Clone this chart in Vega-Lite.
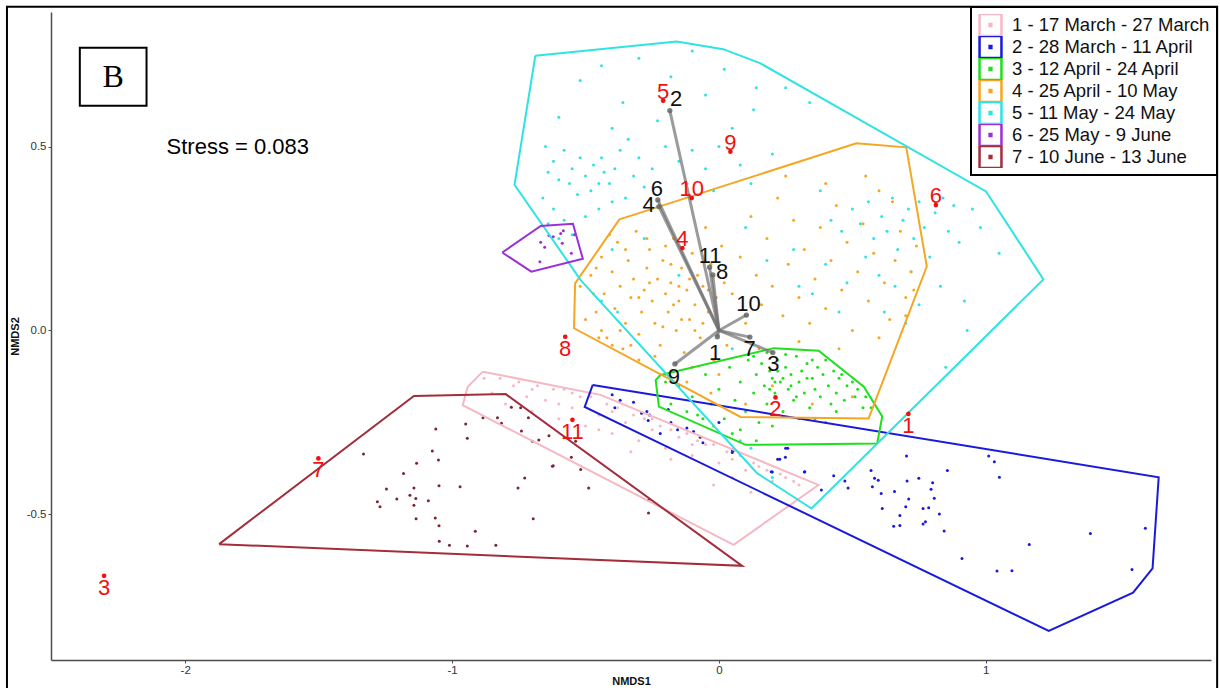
{
"$schema":"https://vega.github.io/schema/vega-lite/v6.json",
"width":1160,"height":648,
"autosize":{"type":"none"},
"padding":{"left":51,"top":12,"right":9,"bottom":28},
"background":"white",
"config":{"view":{"stroke":null},"font":"Liberation Sans"},
"datasets":{
"hull":[
{"p":"1 - 17 March - 27 March","o":1,"x":-0.885,"y":-0.112},{"p":"1 - 17 March - 27 March","o":2,"x":-0.444,"y":-0.175},{"p":"1 - 17 March - 27 March","o":3,"x":0.373,"y":-0.420},{"p":"1 - 17 March - 27 March","o":4,"x":0.055,"y":-0.583},{"p":"1 - 17 March - 27 March","o":5,"x":-0.960,"y":-0.203},{"p":"1 - 17 March - 27 March","o":6,"x":-0.942,"y":-0.154},{"p":"1 - 17 March - 27 March","o":7,"x":-0.885,"y":-0.112},
{"p":"2 - 28 March - 11 April","o":1,"x":-0.473,"y":-0.148},{"p":"2 - 28 March - 11 April","o":2,"x":1.648,"y":-0.399},{"p":"2 - 28 March - 11 April","o":3,"x":1.625,"y":-0.647},{"p":"2 - 28 March - 11 April","o":4,"x":1.552,"y":-0.713},{"p":"2 - 28 March - 11 April","o":5,"x":1.236,"y":-0.817},{"p":"2 - 28 March - 11 April","o":6,"x":-0.503,"y":-0.208},{"p":"2 - 28 March - 11 April","o":7,"x":-0.473,"y":-0.148},
{"p":"3 - 12 April - 24 April","o":1,"x":-0.219,"y":-0.121},{"p":"3 - 12 April - 24 April","o":2,"x":0.206,"y":-0.048},{"p":"3 - 12 April - 24 April","o":3,"x":0.374,"y":-0.055},{"p":"3 - 12 April - 24 April","o":4,"x":0.543,"y":-0.153},{"p":"3 - 12 April - 24 April","o":5,"x":0.612,"y":-0.234},{"p":"3 - 12 April - 24 April","o":6,"x":0.593,"y":-0.307},{"p":"3 - 12 April - 24 April","o":7,"x":0.100,"y":-0.311},{"p":"3 - 12 April - 24 April","o":8,"x":-0.225,"y":-0.207},{"p":"3 - 12 April - 24 April","o":9,"x":-0.237,"y":-0.135},{"p":"3 - 12 April - 24 April","o":10,"x":-0.219,"y":-0.121},
{"p":"4 - 25 April - 10 May","o":1,"x":-0.373,"y":0.302},{"p":"4 - 25 April - 10 May","o":2,"x":0.515,"y":0.509},{"p":"4 - 25 April - 10 May","o":3,"x":0.702,"y":0.498},{"p":"4 - 25 April - 10 May","o":4,"x":0.779,"y":0.174},{"p":"4 - 25 April - 10 May","o":5,"x":0.561,"y":-0.239},{"p":"4 - 25 April - 10 May","o":6,"x":0.081,"y":-0.235},{"p":"4 - 25 April - 10 May","o":7,"x":-0.543,"y":0.006},{"p":"4 - 25 April - 10 May","o":8,"x":-0.539,"y":0.128},{"p":"4 - 25 April - 10 May","o":9,"x":-0.373,"y":0.302},
{"p":"5 - 11 May - 24 May","o":1,"x":-0.688,"y":0.747},{"p":"5 - 11 May - 24 May","o":2,"x":-0.158,"y":0.786},{"p":"5 - 11 May - 24 May","o":3,"x":0.016,"y":0.765},{"p":"5 - 11 May - 24 May","o":4,"x":0.154,"y":0.727},{"p":"5 - 11 May - 24 May","o":5,"x":1.001,"y":0.378},{"p":"5 - 11 May - 24 May","o":6,"x":1.216,"y":0.139},{"p":"5 - 11 May - 24 May","o":7,"x":0.347,"y":-0.484},{"p":"5 - 11 May - 24 May","o":8,"x":0.143,"y":-0.388},{"p":"5 - 11 May - 24 May","o":9,"x":-0.518,"y":0.137},{"p":"5 - 11 May - 24 May","o":10,"x":-0.766,"y":0.396},{"p":"5 - 11 May - 24 May","o":11,"x":-0.688,"y":0.747},
{"p":"6 - 25 May - 9 June","o":1,"x":-0.812,"y":0.212},{"p":"6 - 25 May - 9 June","o":2,"x":-0.668,"y":0.284},{"p":"6 - 25 May - 9 June","o":3,"x":-0.547,"y":0.290},{"p":"6 - 25 May - 9 June","o":4,"x":-0.510,"y":0.195},{"p":"6 - 25 May - 9 June","o":5,"x":-0.703,"y":0.160},{"p":"6 - 25 May - 9 June","o":6,"x":-0.812,"y":0.212},
{"p":"7 - 10 June - 13 June","o":1,"x":-1.873,"y":-0.581},{"p":"7 - 10 June - 13 June","o":2,"x":-1.143,"y":-0.178},{"p":"7 - 10 June - 13 June","o":3,"x":-0.799,"y":-0.173},{"p":"7 - 10 June - 13 June","o":4,"x":0.087,"y":-0.640},{"p":"7 - 10 June - 13 June","o":5,"x":-1.873,"y":-0.581}
],
"pts":[
{"g":5,"x":-0.44,"y":0.72},{"g":5,"x":-0.30,"y":0.74},{"g":5,"x":-0.18,"y":0.69},{"g":5,"x":-0.10,"y":0.76},{"g":5,"x":0.02,"y":0.71},{"g":5,"x":0.14,"y":0.66},{"g":5,"x":0.13,"y":0.60},{"g":5,"x":-0.36,"y":0.62},{"g":5,"x":-0.52,"y":0.68},{"g":5,"x":-0.60,"y":0.58},{"g":5,"x":-0.23,"y":0.57},{"g":5,"x":-0.05,"y":0.64},{"g":5,"x":0.05,"y":0.55},{"g":5,"x":-0.40,"y":0.55},{"g":5,"x":0.25,"y":0.66},{"g":5,"x":0.34,"y":0.62},
{"g":5,"x":-0.65,"y":0.50},{"g":5,"x":-0.62,"y":0.46},{"g":5,"x":-0.58,"y":0.49},{"g":5,"x":-0.55,"y":0.44},{"g":5,"x":-0.52,"y":0.47},{"g":5,"x":-0.50,"y":0.42},{"g":5,"x":-0.47,"y":0.45},{"g":5,"x":-0.45,"y":0.40},{"g":5,"x":-0.43,"y":0.43},{"g":5,"x":-0.41,"y":0.40},{"g":5,"x":-0.56,"y":0.40},{"g":5,"x":-0.60,"y":0.41},{"g":5,"x":-0.64,"y":0.43},{"g":5,"x":-0.48,"y":0.38},{"g":5,"x":-0.53,"y":0.37},{"g":5,"x":-0.44,"y":0.47},{"g":5,"x":-0.39,"y":0.44},{"g":5,"x":-0.37,"y":0.49},{"g":5,"x":-0.34,"y":0.52},{"g":5,"x":-0.30,"y":0.47},{"g":5,"x":-0.32,"y":0.42},{"g":5,"x":-0.66,"y":0.36},{"g":5,"x":-0.62,"y":0.33},{"g":5,"x":-0.58,"y":0.30},{"g":5,"x":-0.50,"y":0.31},{"g":5,"x":-0.45,"y":0.33},{"g":5,"x":-0.40,"y":0.35},{"g":5,"x":-0.35,"y":0.36},{"g":5,"x":-0.64,"y":0.29},{"g":5,"x":-0.60,"y":0.25},{"g":5,"x":-0.55,"y":0.26},{"g":5,"x":-0.28,"y":0.39},{"g":5,"x":-0.25,"y":0.44},{"g":5,"x":-0.20,"y":0.50},{"g":5,"x":-0.15,"y":0.46},{"g":5,"x":-0.10,"y":0.49},{"g":5,"x":-0.05,"y":0.44},{"g":5,"x":0.00,"y":0.50},{"g":5,"x":-0.12,"y":0.40},{"g":5,"x":-0.02,"y":0.38},{"g":5,"x":0.08,"y":0.45},{"g":5,"x":0.12,"y":0.40},{"g":5,"x":0.20,"y":0.48},
{"g":5,"x":-0.40,"y":0.22},{"g":5,"x":-0.28,"y":0.25},{"g":5,"x":-0.44,"y":0.08},{"g":5,"x":-0.38,"y":0.05},{"g":5,"x":0.10,"y":0.28},{"g":5,"x":0.18,"y":0.19},{"g":5,"x":0.28,"y":0.22},{"g":5,"x":0.35,"y":0.10},{"g":5,"x":0.05,"y":-0.05},{"g":5,"x":-0.15,"y":0.15},
{"g":5,"x":0.42,"y":0.30},{"g":5,"x":0.46,"y":0.27},{"g":5,"x":0.50,"y":0.33},{"g":5,"x":0.53,"y":0.29},{"g":5,"x":0.56,"y":0.35},{"g":5,"x":0.58,"y":0.25},{"g":5,"x":0.61,"y":0.31},{"g":5,"x":0.63,"y":0.27},{"g":5,"x":0.65,"y":0.36},{"g":5,"x":0.67,"y":0.22},{"g":5,"x":0.69,"y":0.30},{"g":5,"x":0.71,"y":0.33},{"g":5,"x":0.73,"y":0.25},{"g":5,"x":0.75,"y":0.35},{"g":5,"x":0.77,"y":0.28},{"g":5,"x":0.79,"y":0.20},{"g":5,"x":0.81,"y":0.32},{"g":5,"x":0.84,"y":0.36},{"g":5,"x":0.86,"y":0.27},{"g":5,"x":0.88,"y":0.34},{"g":5,"x":0.90,"y":0.24},{"g":5,"x":0.55,"y":0.20},{"g":5,"x":0.60,"y":0.15},{"g":5,"x":0.66,"y":0.12},{"g":5,"x":0.72,"y":0.16},{"g":5,"x":0.48,"y":0.13},{"g":5,"x":0.40,"y":0.18},{"g":5,"x":0.62,"y":0.05},{"g":5,"x":0.75,"y":0.07},{"g":5,"x":0.83,"y":0.12},{"g":5,"x":0.95,"y":0.33},{"g":5,"x":0.98,"y":0.28},{"g":5,"x":1.05,"y":0.21},{"g":5,"x":0.92,"y":0.08},{"g":5,"x":0.45,"y":0.05},{"g":5,"x":0.30,"y":0.12},{"g":5,"x":0.38,"y":0.38},{"g":5,"x":0.93,"y":0.00},{"g":5,"x":0.85,"y":-0.10},{"g":5,"x":0.70,"y":0.02},
{"g":5,"x":0.08,"y":-0.30},{"g":5,"x":0.12,"y":-0.32},{"g":5,"x":0.20,"y":-0.40},
{"g":4,"x":-0.48,"y":0.15},{"g":4,"x":-0.46,"y":0.05},{"g":4,"x":-0.44,"y":0.20},{"g":4,"x":-0.43,"y":0.10},{"g":4,"x":-0.42,"y":-0.02},{"g":4,"x":-0.40,"y":0.16},{"g":4,"x":-0.39,"y":0.06},{"g":4,"x":-0.38,"y":0.24},{"g":4,"x":-0.37,"y":0.12},{"g":4,"x":-0.36,"y":-0.05},{"g":4,"x":-0.35,"y":0.02},{"g":4,"x":-0.34,"y":0.19},{"g":4,"x":-0.33,"y":0.09},{"g":4,"x":-0.32,"y":0.14},{"g":4,"x":-0.31,"y":0.27},{"g":4,"x":-0.30,"y":-0.01},{"g":4,"x":-0.29,"y":0.05},{"g":4,"x":-0.28,"y":0.11},{"g":4,"x":-0.27,"y":0.17},{"g":4,"x":-0.26,"y":0.22},{"g":4,"x":-0.25,"y":0.08},{"g":4,"x":-0.24,"y":0.02},{"g":4,"x":-0.23,"y":0.14},{"g":4,"x":-0.22,"y":-0.04},{"g":4,"x":-0.21,"y":0.19},{"g":4,"x":-0.20,"y":0.10},{"g":4,"x":-0.19,"y":0.05},{"g":4,"x":-0.18,"y":0.13},{"g":4,"x":-0.17,"y":0.25},{"g":4,"x":-0.16,"y":0.00},{"g":4,"x":-0.15,"y":0.08},{"g":4,"x":-0.14,"y":0.17},{"g":4,"x":-0.13,"y":-0.06},{"g":4,"x":-0.12,"y":0.11},{"g":4,"x":-0.11,"y":0.03},{"g":4,"x":-0.10,"y":0.21},{"g":4,"x":-0.09,"y":0.07},{"g":4,"x":-0.08,"y":0.15},{"g":4,"x":-0.07,"y":-0.02},{"g":4,"x":-0.06,"y":0.12},{"g":4,"x":-0.05,"y":0.28},{"g":4,"x":-0.04,"y":0.05},{"g":4,"x":-0.03,"y":0.18},{"g":4,"x":-0.02,"y":-0.08},{"g":4,"x":-0.01,"y":0.09},{"g":4,"x":0.01,"y":0.23},{"g":4,"x":0.02,"y":0.13},{"g":4,"x":0.03,"y":-0.04},
{"g":4,"x":-0.41,"y":0.26},{"g":4,"x":-0.37,"y":0.00},{"g":4,"x":-0.33,"y":-0.04},{"g":4,"x":-0.27,"y":0.25},{"g":4,"x":-0.24,"y":-0.07},{"g":4,"x":-0.20,"y":0.23},{"g":4,"x":-0.17,"y":0.07},{"g":4,"x":-0.14,"y":0.03},{"g":4,"x":-0.11,"y":0.14},{"g":4,"x":-0.06,"y":0.02},{"g":4,"x":-0.30,"y":0.09},{"g":4,"x":-0.26,"y":0.13},{"g":4,"x":-0.21,"y":0.01},{"g":4,"x":-0.18,"y":0.18},{"g":4,"x":-0.15,"y":0.12},{"g":4,"x":-0.09,"y":0.00},{"g":4,"x":-0.04,"y":0.11},{"g":4,"x":-0.35,"y":0.22},{"g":4,"x":-0.44,"y":0.00},{"g":4,"x":-0.47,"y":0.10},{"g":4,"x":-0.50,"y":0.03},{"g":4,"x":-0.52,"y":0.12},{"g":4,"x":-0.46,"y":0.17},{"g":4,"x":-0.45,"y":-0.02},{"g":4,"x":-0.40,"y":-0.04},{"g":4,"x":-0.30,"y":-0.08},{"g":4,"x":-0.20,"y":-0.12},{"g":4,"x":-0.10,"y":-0.10},{"g":4,"x":0.00,"y":-0.12},{"g":4,"x":-0.03,"y":-0.17},{"g":4,"x":-0.12,"y":-0.14},
{"g":4,"x":0.05,"y":0.10},{"g":4,"x":0.08,"y":0.20},{"g":4,"x":0.10,"y":0.02},{"g":4,"x":0.12,"y":0.31},{"g":4,"x":0.14,"y":0.15},{"g":4,"x":0.16,"y":0.07},{"g":4,"x":0.18,"y":0.25},{"g":4,"x":0.20,"y":0.12},{"g":4,"x":0.22,"y":0.36},{"g":4,"x":0.24,"y":0.04},{"g":4,"x":0.26,"y":0.18},{"g":4,"x":0.28,"y":0.30},{"g":4,"x":0.30,"y":0.09},{"g":4,"x":0.32,"y":0.22},{"g":4,"x":0.34,"y":0.02},{"g":4,"x":0.36,"y":0.14},{"g":4,"x":0.38,"y":0.28},{"g":4,"x":0.40,"y":0.06},{"g":4,"x":0.42,"y":0.19},{"g":4,"x":0.44,"y":0.34},{"g":4,"x":0.46,"y":0.11},{"g":4,"x":0.48,"y":0.24},{"g":4,"x":0.50,"y":0.00},{"g":4,"x":0.52,"y":0.16},{"g":4,"x":0.54,"y":0.29},{"g":4,"x":0.56,"y":0.08},{"g":4,"x":0.58,"y":0.21},{"g":4,"x":0.60,"y":0.38},{"g":4,"x":0.62,"y":0.13},{"g":4,"x":0.64,"y":0.03},{"g":4,"x":0.66,"y":0.19},{"g":4,"x":0.68,"y":0.27},{"g":4,"x":0.70,"y":0.09},{"g":4,"x":0.72,"y":0.16},{"g":4,"x":0.74,"y":0.23},{"g":4,"x":0.70,"y":0.04},{"g":4,"x":0.60,"y":-0.02},{"g":4,"x":0.45,"y":-0.05},{"g":4,"x":0.30,"y":-0.03},{"g":4,"x":0.15,"y":-0.05},{"g":4,"x":0.20,"y":-0.15},{"g":4,"x":0.35,"y":-0.20},{"g":4,"x":0.50,"y":-0.18},{"g":4,"x":0.10,"y":-0.20},{"g":4,"x":0.25,"y":0.42},{"g":4,"x":0.40,"y":0.40},{"g":4,"x":0.55,"y":0.42},{"g":4,"x":0.65,"y":0.35},{"g":4,"x":0.73,"y":0.11},
{"g":3,"x":-0.15,"y":-0.15},{"g":3,"x":-0.12,"y":-0.22},{"g":3,"x":-0.10,"y":-0.18},{"g":3,"x":-0.08,"y":-0.23},{"g":3,"x":-0.05,"y":-0.12},{"g":3,"x":-0.03,"y":-0.20},{"g":3,"x":0.00,"y":-0.16},{"g":3,"x":0.02,"y":-0.24},{"g":3,"x":0.04,"y":-0.10},{"g":3,"x":0.06,"y":-0.19},{"g":3,"x":0.08,"y":-0.14},{"g":3,"x":0.10,"y":-0.22},{"g":3,"x":0.11,"y":-0.08},{"g":3,"x":0.13,"y":-0.17},{"g":3,"x":0.14,"y":-0.12},{"g":3,"x":0.15,"y":-0.25},{"g":3,"x":0.16,"y":-0.09},{"g":3,"x":0.17,"y":-0.15},{"g":3,"x":0.18,"y":-0.20},{"g":3,"x":0.19,"y":-0.11},{"g":3,"x":0.20,"y":-0.13},{"g":3,"x":0.21,"y":-0.17},{"g":3,"x":0.22,"y":-0.08},{"g":3,"x":0.23,"y":-0.14},{"g":3,"x":0.24,"y":-0.22},{"g":3,"x":0.25,"y":-0.10},{"g":3,"x":0.26,"y":-0.16},{"g":3,"x":0.27,"y":-0.12},{"g":3,"x":0.28,"y":-0.19},{"g":3,"x":0.29,"y":-0.07},{"g":3,"x":0.30,"y":-0.14},{"g":3,"x":0.31,"y":-0.11},{"g":3,"x":0.32,"y":-0.17},{"g":3,"x":0.33,"y":-0.09},{"g":3,"x":0.34,"y":-0.21},{"g":3,"x":0.35,"y":-0.13},{"g":3,"x":0.36,"y":-0.16},{"g":3,"x":0.37,"y":-0.10},{"g":3,"x":0.38,"y":-0.18},{"g":3,"x":0.39,"y":-0.12},{"g":3,"x":0.40,"y":-0.08},{"g":3,"x":0.41,"y":-0.15},{"g":3,"x":0.42,"y":-0.20},{"g":3,"x":0.43,"y":-0.11},{"g":3,"x":0.44,"y":-0.17},{"g":3,"x":0.45,"y":-0.13},{"g":3,"x":0.46,"y":-0.12},{"g":3,"x":0.47,"y":-0.19},{"g":3,"x":0.48,"y":-0.15},{"g":3,"x":0.50,"y":-0.14},{"g":3,"x":0.51,"y":-0.18},{"g":3,"x":0.52,"y":-0.16},{"g":3,"x":0.54,"y":-0.21},{"g":3,"x":0.55,"y":-0.18},{"g":3,"x":0.57,"y":-0.21},{"g":3,"x":0.18,"y":-0.06},{"g":3,"x":0.25,"y":-0.065},{"g":3,"x":0.13,"y":-0.07},{"g":3,"x":0.30,"y":-0.24},{"g":3,"x":0.20,"y":-0.26},{"g":3,"x":0.08,"y":-0.27},{"g":3,"x":0.40,"y":-0.25},{"g":3,"x":-0.18,"y":-0.20},{"g":3,"x":-0.20,"y":-0.14},{"g":3,"x":0.05,"y":-0.28},{"g":3,"x":-0.02,"y":-0.26},{"g":3,"x":0.22,"y":-0.11},{"g":3,"x":0.27,"y":-0.15},{"g":3,"x":0.33,"y":-0.13},{"g":3,"x":0.19,"y":-0.16},{"g":3,"x":0.24,"y":-0.13},{"g":3,"x":0.21,"y":-0.14},{"g":3,"x":0.29,"y":-0.18},{"g":3,"x":0.35,"y":-0.08},{"g":3,"x":0.44,"y":-0.22},{"g":3,"x":0.36,"y":-0.24},{"g":3,"x":0.14,"y":-0.30},{"g":3,"x":-0.06,"y":-0.24},
{"g":2,"x":-0.40,"y":-0.175},{"g":2,"x":-0.37,"y":-0.19},{"g":2,"x":-0.32,"y":-0.195},{"g":2,"x":-0.39,"y":-0.21},{"g":2,"x":-0.29,"y":-0.225},{"g":2,"x":-0.27,"y":-0.22},{"g":2,"x":-0.26,"y":-0.23},{"g":2,"x":-0.265,"y":-0.245},{"g":2,"x":-0.19,"y":-0.215},{"g":2,"x":-0.18,"y":-0.25},{"g":2,"x":-0.155,"y":-0.27},{"g":2,"x":-0.12,"y":-0.265},{"g":2,"x":-0.095,"y":-0.275},{"g":2,"x":-0.07,"y":-0.29},{"g":2,"x":-0.06,"y":-0.305},{"g":2,"x":0.05,"y":-0.325},{"g":2,"x":0.22,"y":-0.35},{"g":2,"x":0.25,"y":-0.32},{"g":2,"x":0.20,"y":-0.385},{"g":2,"x":0.32,"y":-0.385},{"g":2,"x":-0.22,"y":-0.28},{"g":2,"x":0.0,"y":-0.25},
{"g":2,"x":0.703,"y":-0.341},{"g":2,"x":0.570,"y":-0.381},{"g":2,"x":0.583,"y":-0.402},{"g":2,"x":0.597,"y":-0.407},{"g":2,"x":0.856,"y":-0.381},{"g":2,"x":0.575,"y":-0.425},{"g":2,"x":0.484,"y":-0.428},{"g":2,"x":0.472,"y":-0.409},{"g":2,"x":0.430,"y":-0.395},{"g":2,"x":0.384,"y":-0.434},{"g":2,"x":0.322,"y":-0.384},{"g":2,"x":0.608,"y":-0.443},{"g":2,"x":0.658,"y":-0.438},{"g":2,"x":0.705,"y":-0.409},{"g":2,"x":0.749,"y":-0.402},{"g":2,"x":0.801,"y":-0.414},{"g":2,"x":0.795,"y":-0.432},{"g":2,"x":0.807,"y":-0.456},{"g":2,"x":0.711,"y":-0.458},{"g":2,"x":0.700,"y":-0.479},{"g":2,"x":0.612,"y":-0.484},{"g":2,"x":0.678,"y":-0.503},{"g":2,"x":0.655,"y":-0.532},{"g":2,"x":0.678,"y":-0.530},{"g":2,"x":0.765,"y":-0.484},{"g":2,"x":0.786,"y":-0.482},{"g":2,"x":0.774,"y":-0.520},{"g":2,"x":0.765,"y":-0.526},{"g":2,"x":0.826,"y":-0.499},{"g":2,"x":0.844,"y":-0.545},{"g":2,"x":1.011,"y":-0.341},{"g":2,"x":1.032,"y":-0.357},{"g":2,"x":1.051,"y":-0.399},{"g":2,"x":0.911,"y":-0.620},{"g":2,"x":1.042,"y":-0.654},{"g":2,"x":1.098,"y":-0.653},{"g":2,"x":1.163,"y":-0.582},{"g":2,"x":1.392,"y":-0.552},{"g":2,"x":1.598,"y":-0.538},{"g":2,"x":1.548,"y":-0.650},{"g":2,"x":0.258,"y":-0.320},{"g":2,"x":0.249,"y":-0.345},{"g":2,"x":0.228,"y":-0.350},{"g":2,"x":0.196,"y":-0.384},{"g":2,"x":0.053,"y":-0.327},{"g":2,"x":0.050,"y":-0.332},
{"g":1,"x":-0.88,"y":-0.13},{"g":1,"x":-0.85,"y":-0.17},{"g":1,"x":-0.82,"y":-0.13},{"g":1,"x":-0.80,"y":-0.20},{"g":1,"x":-0.77,"y":-0.15},{"g":1,"x":-0.75,"y":-0.14},{"g":1,"x":-0.72,"y":-0.18},{"g":1,"x":-0.70,"y":-0.22},{"g":1,"x":-0.68,"y":-0.15},{"g":1,"x":-0.65,"y":-0.19},{"g":1,"x":-0.62,"y":-0.16},{"g":1,"x":-0.60,"y":-0.24},{"g":1,"x":-0.58,"y":-0.16},{"g":1,"x":-0.55,"y":-0.21},{"g":1,"x":-0.52,"y":-0.18},{"g":1,"x":-0.50,"y":-0.26},{"g":1,"x":-0.48,"y":-0.18},{"g":1,"x":-0.45,"y":-0.23},{"g":1,"x":-0.42,"y":-0.20},{"g":1,"x":-0.40,"y":-0.28},{"g":1,"x":-0.38,"y":-0.21},{"g":1,"x":-0.35,"y":-0.25},{"g":1,"x":-0.32,"y":-0.23},{"g":1,"x":-0.30,"y":-0.30},{"g":1,"x":-0.28,"y":-0.24},{"g":1,"x":-0.25,"y":-0.27},{"g":1,"x":-0.22,"y":-0.26},{"g":1,"x":-0.20,"y":-0.32},{"g":1,"x":-0.18,"y":-0.27},{"g":1,"x":-0.15,"y":-0.29},{"g":1,"x":-0.12,"y":-0.28},{"g":1,"x":-0.10,"y":-0.34},{"g":1,"x":-0.08,"y":-0.30},{"g":1,"x":-0.05,"y":-0.31},{"g":1,"x":-0.02,"y":-0.31},{"g":1,"x":0.00,"y":-0.36},{"g":1,"x":0.03,"y":-0.33},{"g":1,"x":0.05,"y":-0.35},{"g":1,"x":0.08,"y":-0.34},{"g":1,"x":0.10,"y":-0.38},{"g":1,"x":0.13,"y":-0.36},{"g":1,"x":0.15,"y":-0.37},{"g":1,"x":0.18,"y":-0.38},{"g":1,"x":0.20,"y":-0.41},{"g":1,"x":0.23,"y":-0.39},{"g":1,"x":0.25,"y":-0.40},{"g":1,"x":0.28,"y":-0.41},{"g":1,"x":0.30,"y":-0.42},{"g":1,"x":-0.70,"y":-0.16},{"g":1,"x":-0.55,"y":-0.17},{"g":1,"x":-0.40,"y":-0.22},{"g":1,"x":-0.25,"y":-0.24},{"g":1,"x":-0.10,"y":-0.31},{"g":1,"x":0.05,"y":-0.40},{"g":1,"x":-0.60,"y":-0.20},{"g":1,"x":-0.45,"y":-0.27},{"g":1,"x":-0.33,"y":-0.33},{"g":1,"x":-0.18,"y":-0.35},{"g":1,"x":-0.02,"y":-0.42},{"g":1,"x":0.12,"y":-0.44},
{"g":6,"x":-0.637,"y":0.258},{"g":6,"x":-0.621,"y":0.255},{"g":6,"x":-0.593,"y":0.264},{"g":6,"x":-0.583,"y":0.271},{"g":6,"x":-0.541,"y":0.260},{"g":6,"x":-0.668,"y":0.240},{"g":6,"x":-0.653,"y":0.226},{"g":6,"x":-0.587,"y":0.237},{"g":6,"x":-0.553,"y":0.210},{"g":6,"x":-0.671,"y":0.187},
{"g":7,"x":-1.061,"y":-0.268},{"g":7,"x":-0.949,"y":-0.254},{"g":7,"x":-0.943,"y":-0.293},{"g":7,"x":-0.884,"y":-0.237},{"g":7,"x":-0.830,"y":-0.237},{"g":7,"x":-0.815,"y":-0.252},{"g":7,"x":-0.714,"y":-0.237},{"g":7,"x":-0.740,"y":-0.273},{"g":7,"x":-0.699,"y":-0.301},{"g":7,"x":-0.675,"y":-0.298},{"g":7,"x":-0.637,"y":-0.286},{"g":7,"x":-0.553,"y":-0.345},{"g":7,"x":-0.621,"y":-0.368},{"g":7,"x":-0.728,"y":-0.401},{"g":7,"x":-0.753,"y":-0.428},{"g":7,"x":-0.696,"y":-0.512},{"g":7,"x":-1.332,"y":-0.336},{"g":7,"x":-1.133,"y":-0.361},{"g":7,"x":-1.074,"y":-0.328},{"g":7,"x":-1.051,"y":-0.352},{"g":7,"x":-1.182,"y":-0.389},{"g":7,"x":-1.246,"y":-0.431},{"g":7,"x":-1.143,"y":-0.428},{"g":7,"x":-1.049,"y":-0.422},{"g":7,"x":-0.970,"y":-0.425},{"g":7,"x":-1.207,"y":-0.458},{"g":7,"x":-1.158,"y":-0.448},{"g":7,"x":-1.136,"y":-0.457},{"g":7,"x":-1.089,"y":-0.463},{"g":7,"x":-1.280,"y":-0.466},{"g":7,"x":-1.270,"y":-0.479},{"g":7,"x":-1.143,"y":-0.475},{"g":7,"x":-1.135,"y":-0.512},{"g":7,"x":-1.063,"y":-0.510},{"g":7,"x":-1.049,"y":-0.531},{"g":7,"x":-0.913,"y":-0.546},{"g":7,"x":-1.048,"y":-0.573},{"g":7,"x":-1.010,"y":-0.584},{"g":7,"x":-0.943,"y":-0.586},{"g":7,"x":-0.836,"y":-0.584},{"g":7,"x":-0.778,"y":-0.209},{"g":7,"x":-0.743,"y":-0.210},{"g":7,"x":-0.264,"y":-0.461},{"g":7,"x":-0.264,"y":-0.496},{"g":7,"x":-0.488,"y":-0.428},{"g":7,"x":-0.518,"y":-0.378},{"g":7,"x":-0.537,"y":-0.301},{"g":7,"x":-0.624,"y":-0.369}
],
"arr":[
{"n":"1","o":0,"x":0,"y":0},{"n":"1","o":1,"x":-0.006,"y":-0.017},
{"n":"2","o":0,"x":0,"y":0},{"n":"2","o":1,"x":-0.184,"y":0.598},
{"n":"3","o":0,"x":0,"y":0},{"n":"3","o":1,"x":0.202,"y":-0.060},
{"n":"4","o":0,"x":0,"y":0},{"n":"4","o":1,"x":-0.225,"y":0.337},
{"n":"6","o":0,"x":0,"y":0},{"n":"6","o":1,"x":-0.229,"y":0.355},
{"n":"7","o":0,"x":0,"y":0},{"n":"7","o":1,"x":0.116,"y":-0.018},
{"n":"8","o":0,"x":0,"y":0},{"n":"8","o":1,"x":-0.023,"y":0.151},
{"n":"9","o":0,"x":0,"y":0},{"n":"9","o":1,"x":-0.165,"y":-0.091},
{"n":"10","o":0,"x":0,"y":0},{"n":"10","o":1,"x":0.103,"y":0.042},
{"n":"11","o":0,"x":0,"y":0},{"n":"11","o":1,"x":-0.035,"y":0.172}
],
"alab":[
{"n":"1","x":-0.014,"y":-0.060},{"n":"2","x":-0.160,"y":0.629},{"n":"3","x":0.204,"y":-0.092},{"n":"4","x":-0.263,"y":0.341},{"n":"6","x":-0.233,"y":0.384},{"n":"7","x":0.115,"y":-0.051},{"n":"8","x":0.012,"y":0.158},{"n":"9","x":-0.169,"y":-0.126},{"n":"10","x":0.111,"y":0.072},{"n":"11","x":-0.033,"y":0.202}
],
"site":[
{"s":"1","x":0.710,"y":-0.227},{"s":"2","x":0.212,"y":-0.182},{"s":"3","x":-2.304,"y":-0.667},{"s":"4","x":-0.137,"y":0.224},{"s":"5","x":-0.209,"y":0.625},{"s":"6","x":0.813,"y":0.341},{"s":"7","x":-1.501,"y":-0.348},{"s":"8","x":-0.576,"y":-0.017},{"s":"9","x":0.043,"y":0.486},{"s":"10","x":-0.102,"y":0.360},{"s":"11","x":-0.549,"y":-0.243}
]
},
"encoding":{
"x":{"field":"x","type":"quantitative","scale":{"domain":[-2.503,1.844],"nice":false,"zero":false},
 "axis":{"values":[-2,-1,0,1],"title":"NMDS1","grid":false,"domainColor":"#4d4d4d","domainWidth":1.5,"tickColor":"#4d4d4d","tickSize":3,"labelFont":"Liberation Sans","labelFontSize":11.5,"labelColor":"#333333","labelPadding":1,"labelExpr":"replace(datum.label, '\u2212', '-')","titleFont":"Liberation Sans","titleFontSize":11,"titleFontWeight":"bold","titleColor":"#111111","titlePadding":0}},
"y":{"field":"y","type":"quantitative","scale":{"domain":[-0.896,0.866],"nice":false,"zero":false},
 "axis":{"values":[-0.5,0,0.5],"format":".1f","title":"NMDS2","grid":false,"domainColor":"#4d4d4d","domainWidth":1.5,"tickColor":"#4d4d4d","tickSize":3,"labelFont":"Liberation Sans","labelFontSize":11.5,"labelColor":"#333333","labelPadding":2,"labelExpr":"replace(datum.label, '\u2212', '-')","titleFont":"Liberation Sans","titleFontSize":11,"titleFontWeight":"bold","titleColor":"#111111","titlePadding":6}}
},
"layer":[
{"data":{"name":"pts"},"mark":{"type":"circle","size":9,"opacity":1},
 "encoding":{"fill":{"field":"g","type":"nominal","scale":{"domain":[1,2,3,4,5,6,7],"range":["#F5B8C4","#1A1ADB","#1FDF1F","#F5A623","#30E3E3","#9B30D8","#7A2530"]},"legend":null}}},
{"data":{"name":"hull"},"mark":{"type":"line","strokeWidth":2},
 "encoding":{"stroke":{"field":"p","type":"nominal","scale":{"domain":["1 - 17 March - 27 March","2 - 28 March - 11 April","3 - 12 April - 24 April","4 - 25 April - 10 May","5 - 11 May - 24 May","6 - 25 May - 9 June","7 - 10 June - 13 June"],"range":["#F5B8C4","#1A1ADB","#1FDF1F","#F5A623","#30E3E3","#9B30D8","#A42D3C"]},
  "legend":{"title":null,"orient":"none","legendX":920,"legendY":-5,"symbolType":"M-1,-1H1V1H-1Z M-0.08,-0.08H0.08V0.08H-0.08Z","symbolSize":480,"symbolStrokeWidth":2.5,"symbolFillColor":"white","labelFont":"Liberation Sans","labelFontSize":18.5,"labelColor":"#111111","labelOffset":9,"rowPadding":0,"clipHeight":22,"padding":7,"strokeColor":"black","labelLimit":400,
   "encode":{"legend":{"update":{"strokeWidth":{"value":2}}}}}},
  "order":{"field":"o","type":"quantitative"}}},
{"data":{"name":"arr"},"mark":{"type":"line","strokeWidth":3,"color":"#707070","opacity":0.7},
 "encoding":{"detail":{"field":"n","type":"nominal"},"order":{"field":"o","type":"quantitative"}}},
{"data":{"name":"arr"},"transform":[{"filter":"datum.o == 1"}],"mark":{"type":"circle","size":28,"color":"#666666","opacity":0.85}},
{"data":{"name":"alab"},"mark":{"type":"text","font":"Liberation Sans","fontSize":22,"color":"#111111","align":"center","baseline":"middle"},
 "encoding":{"text":{"field":"n"}}},
{"data":{"name":"site"},"mark":{"type":"circle","size":22,"color":"#F01010","opacity":1}},
{"data":{"name":"site"},"transform":[{"filter":"datum.y > 0"}],"mark":{"type":"text","font":"Liberation Sans","fontSize":22,"color":"#F01010","align":"center","baseline":"alphabetic","dy":-2},
 "encoding":{"text":{"field":"s"}}},
{"data":{"name":"site"},"transform":[{"filter":"datum.y <= 0"}],"mark":{"type":"text","font":"Liberation Sans","fontSize":22,"color":"#F01010","align":"center","baseline":"alphabetic","dy":19},
 "encoding":{"text":{"field":"s"}}},
{"data":{"values":[{"x":-2.668,"x2":1.867,"y":0.880,"y2":-0.983}]},"mark":{"type":"rect","fill":"transparent","stroke":"black","strokeWidth":2},
 "encoding":{"x2":{"field":"x2"},"y2":{"field":"y2"}}},
{"data":{"values":[{"x":-2.395,"x2":-2.145,"y":0.769,"y2":0.611}]},"mark":{"type":"rect","fill":"white","stroke":"black","strokeWidth":2},
 "encoding":{"x2":{"field":"x2"},"y2":{"field":"y2"}}},
{"data":{"values":[{"x":-2.270,"y":0.688,"t":"B"}]},"mark":{"type":"text","font":"Liberation Serif","fontSize":32,"color":"black","align":"center","baseline":"middle"},
 "encoding":{"text":{"field":"t"}}},
{"data":{"values":[{"x":-2.070,"y":0.500,"t":"Stress = 0.083"}]},"mark":{"type":"text","font":"Liberation Sans","fontSize":22,"color":"black","align":"left","baseline":"middle"},
 "encoding":{"text":{"field":"t"}}}
]
}
